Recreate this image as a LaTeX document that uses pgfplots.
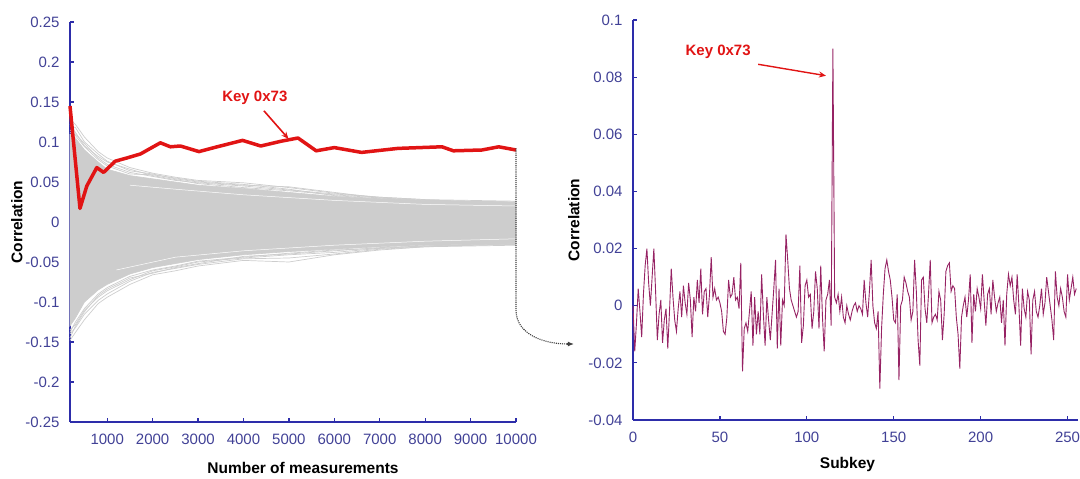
\documentclass[border=0pt]{standalone}
\usepackage{fontspec}
\setmainfont{Liberation Sans}
\usepackage{pgfplots}
\pgfplotsset{compat=1.18}
\usetikzlibrary{arrows.meta}
\definecolor{axblue}{RGB}{45,45,170}
\definecolor{tickblue}{RGB}{65,65,150}
\definecolor{fangray}{RGB}{205,205,205}
\definecolor{keyred}{RGB}{225,20,20}
\definecolor{mypurple}{RGB}{150,35,100}
\pgfplotsset{
  mystyle/.style={
    scale only axis,
    axis lines=left,
    axis line style={-, draw=axblue, line width=1.6pt},
    tick align=inside,
    major tick length=4pt,
    tick style={draw=axblue, line width=1.2pt},
    ticklabel style={font=\fontsize{15}{15}\selectfont, text=tickblue},
    xticklabel style={yshift=-8pt},
    yticklabel style={xshift=-7pt},
    /pgf/number format/assume math mode=true,
    /pgf/number format/fixed,
    /pgf/number format/1000 sep={},
    /pgf/number format/precision=2,
    scaled ticks=false,
    label style={font=\bfseries\fontsize{15.5}{15.5}\selectfont},
    clip=false,
  }
}
\begin{document}
\begin{tikzpicture}
\useasboundingbox (0,0) rectangle (1080pt,479pt);
% ---------------- left axis ----------------
\begin{axis}[mystyle,
  at={(70pt,57pt)}, anchor=south west,
  width=446pt, height=400pt,
  xmin=180, xmax=10000, ymin=-0.25, ymax=0.25,
  xtick={1000,2000,3000,4000,5000,6000,7000,8000,9000,10000},
  ytick={-0.25,-0.2,-0.15,-0.1,-0.05,0,0.05,0.1,0.15,0.2,0.25},
  xlabel={Number of measurements}, ylabel={Correlation},
  xlabel style={yshift=-11pt, xshift=10pt},
  ylabel style={yshift=-4pt},
]
% dense core of the 255 wrong-key traces
\addplot[fill=fangray, draw=fangray, line width=0.6pt] coordinates {
 (180,0.110) (300,0.105) (500,0.090) (800,0.075) (1000,0.066) (1500,0.058) (2000,0.054) (2500,0.050)
 (3000,0.046) (4000,0.042) (5000,0.037) (6000,0.032) (7000,0.029) (8000,0.027) (9000,0.026) (10000,0.025)
 (10000,-0.027) (9000,-0.028) (8000,-0.029) (7000,-0.031) (6000,-0.034) (5000,-0.037) (4000,-0.041) (3000,-0.047)
 (2500,-0.052) (2000,-0.057) (1500,-0.065) (1000,-0.078) (800,-0.085) (500,-0.100) (300,-0.120) (180,-0.130) (180,0.110)};
% outlying traces
\addplot[fangray, line width=0.7pt] coordinates {(180,0.128) (300,0.122) (500,0.106) (800,0.088) (1000,0.080) (1500,0.068) (2000,0.061) (2500,0.056) (3000,0.052) (4000,0.049) (5000,0.043) (6000,0.036) (7000,0.031) (8000,0.028) (9000,0.027) (10000,0.026)};
\addplot[fangray, line width=0.7pt] coordinates {(180,0.120) (300,0.118) (500,0.100) (800,0.085) (1000,0.076) (1500,0.064) (2000,0.060) (2500,0.054) (3000,0.050) (4000,0.046) (5000,0.044) (6000,0.037) (7000,0.030) (8000,0.027) (9000,0.026) (10000,0.025)};
\addplot[fangray, line width=0.7pt] coordinates {(180,0.115) (300,0.110) (500,0.098) (800,0.080) (1000,0.072) (1500,0.062) (2000,0.057) (2500,0.052) (3000,0.049) (4000,0.045) (5000,0.040) (6000,0.035) (7000,0.031) (8000,0.028) (9000,0.025) (10000,0.024)};
\addplot[fangray, line width=0.7pt] coordinates {(180,0.122) (300,0.112) (500,0.095) (800,0.082) (1000,0.075) (1500,0.066) (2000,0.058) (2500,0.053) (3000,0.048) (4000,0.043) (5000,0.039) (6000,0.034) (7000,0.030) (8000,0.027) (9000,0.026) (10000,0.024)};
\addplot[fangray, line width=0.7pt] coordinates {(180,0.112) (300,0.108) (500,0.094) (800,0.078) (1000,0.070) (1500,0.060) (2000,0.059) (2500,0.055) (3000,0.051) (4000,0.047) (5000,0.041) (6000,0.033) (7000,0.029) (8000,0.026) (9000,0.025) (10000,0.024)};
\addplot[fangray, line width=0.7pt] coordinates {(180,-0.148) (300,-0.138) (500,-0.122) (800,-0.102) (1000,-0.094) (1500,-0.078) (2000,-0.066) (2500,-0.061) (3000,-0.055) (4000,-0.048) (5000,-0.050) (6000,-0.041) (7000,-0.035) (8000,-0.031) (9000,-0.030) (10000,-0.029)};
\addplot[fangray, line width=0.7pt] coordinates {(180,-0.140) (300,-0.132) (500,-0.115) (800,-0.098) (1000,-0.090) (1500,-0.074) (2000,-0.063) (2500,-0.058) (3000,-0.053) (4000,-0.046) (5000,-0.045) (6000,-0.040) (7000,-0.034) (8000,-0.031) (9000,-0.029) (10000,-0.028)};
\addplot[fangray, line width=0.7pt] coordinates {(180,-0.135) (300,-0.128) (500,-0.110) (800,-0.094) (1000,-0.086) (1500,-0.072) (2000,-0.061) (2500,-0.056) (3000,-0.050) (4000,-0.045) (5000,-0.041) (6000,-0.038) (7000,-0.033) (8000,-0.030) (9000,-0.029) (10000,-0.028)};
\addplot[fangray, line width=0.7pt] coordinates {(180,-0.145) (300,-0.130) (500,-0.112) (800,-0.092) (1000,-0.084) (1500,-0.070) (2000,-0.064) (2500,-0.057) (3000,-0.052) (4000,-0.043) (5000,-0.040) (6000,-0.036) (7000,-0.032) (8000,-0.030) (9000,-0.028) (10000,-0.027)};
\addplot[fangray, line width=0.7pt] coordinates {(180,-0.138) (300,-0.125) (500,-0.108) (800,-0.090) (1000,-0.082) (1500,-0.068) (2000,-0.060) (2500,-0.055) (3000,-0.049) (4000,-0.044) (5000,-0.039) (6000,-0.035) (7000,-0.033) (8000,-0.030) (9000,-0.029) (10000,-0.027)};
% a few light gaps inside the band
\addplot[white, line width=0.5pt] coordinates {(1500,0.046) (2500,0.041) (4000,0.034) (6000,0.027) (8000,0.022) (10000,0.020)};
\addplot[white, line width=0.5pt] coordinates {(1200,-0.060) (2500,-0.044) (4000,-0.036) (6000,-0.029) (8000,-0.024) (10000,-0.021)};
% correct key 0x73
\addplot[keyred, line width=3.5pt, line join=round] coordinates {
 (180,0.145) (400,0.017) (550,0.045) (770,0.068) (920,0.062) (1175,0.076) (1430,0.080) (1730,0.085)
 (2170,0.099) (2390,0.094) (2610,0.095) (3020,0.088) (3420,0.094) (3980,0.102) (4380,0.095) (4830,0.101)
 (5200,0.105) (5600,0.089) (6000,0.093) (6600,0.087) (7400,0.092) (8370,0.094) (8620,0.089) (9250,0.090)
 (9620,0.094) (10000,0.090)};
\node[font=\bfseries\fontsize{15}{15}\selectfont, text=keyred] at (axis cs:4250,0.155) {Key 0x73};
\draw[keyred, line width=1.6pt, -{Stealth[length=7pt,width=6pt]}] (axis cs:4450,0.139) -- (axis cs:4990,0.104);
\coordinate (A) at (axis cs:10000,0.092);
\coordinate (B) at (axis cs:10000,-0.11);
\end{axis}
% ---------------- right axis ----------------
\begin{axis}[mystyle,
  at={(633pt,59pt)}, anchor=south west,
  width=445pt, height=400pt,
  xmin=0, xmax=256, ymin=-0.04, ymax=0.1,
  xtick={0,50,100,150,200,250},
  ytick={-0.04,-0.02,0,0.02,0.04,0.06,0.08,0.1},
  xlabel={Subkey}, ylabel={Correlation},
  xlabel style={yshift=-8pt, xshift=-8pt},
  ylabel style={yshift=2pt},
]
\addplot[mypurple, line width=0.9pt] coordinates {
(0,0) (1,-0.016) (2,-0.006) (3,0.006) (4,-0.002) (5,-0.011) (6,0.004) (7,0.014) (8,0.020) (9,0.008)
(10,0) (11,0.010) (12,0.020) (13,0.005) (14,-0.012) (15,-0.003) (16,0.002) (17,-0.013) (18,-0.005) (19,-0.001)
(20,-0.015) (21,-0.002) (22,0.013) (23,0.003) (24,-0.005) (25,-0.009) (26,-0.001) (27,0.005) (28,-0.004) (29,0.007)
(30,0.001) (31,-0.003) (32,0.008) (33,0.002) (34,-0.011) (35,0.003) (36,-0.002) (37,0.009) (38,0.001) (39,0.013)
(40,-0.003) (41,0.005) (42,0.006) (43,-0.004) (44,0.004) (45,0.017) (46,0.003) (47,0.006) (48,0.002) (49,0.003)
(50,0.001) (51,-0.002) (52,-0.009) (53,-0.010) (54,-0.004) (55,0.009) (56,0.003) (57,0.004) (58,0.010) (59,0.002)
(60,0.003) (61,-0.001) (62,0.015) (63,-0.023) (64,-0.008) (65,-0.006) (66,-0.009) (67,-0.002) (68,0.005) (69,-0.014)
(70,0.003) (71,-0.010) (72,-0.002) (73,-0.010) (74,0.011) (75,-0.003) (76,-0.014) (77,0.003) (78,-0.005) (79,-0.012)
(80,-0.003) (81,0.006) (82,0.016) (83,-0.015) (84,0.006) (85,-0.014) (86,0.002) (87,0) (88,0.025) (89,0.016)
(90,0.006) (91,0.002) (92,0) (93,-0.002) (94,-0.004) (95,-0.002) (96,0.014) (97,-0.013) (98,-0.007) (99,0.007)
(100,0.009) (101,0.003) (102,0.004) (103,-0.008) (104,-0.002) (105,0.012) (106,0.006) (107,-0.008) (108,0.014) (109,-0.004)
(110,-0.016) (111,0.002) (112,0.004) (113,0.009) (114,-0.007) (115,0.090) (116,0.003) (117,0.001) (118,0.004) (119,-0.002)
(120,0.003) (121,-0.004) (122,-0.006) (123,0) (124,-0.003) (125,-0.005) (126,-0.002) (127,0) (128,0.001) (129,-0.002)
(130,0) (131,-0.001) (132,-0.003) (133,0.009) (134,0.001) (135,-0.004) (136,0.005) (137,0.016) (138,0) (139,-0.006)
(140,-0.008) (141,-0.002) (142,-0.029) (143,-0.008) (144,0.004) (145,0.013) (146,0.016) (147,0.012) (148,0.009) (149,0.003)
(150,-0.005) (151,-0.006) (152,0.004) (153,-0.026) (154,0) (155,0.002) (156,0.010) (157,0.008) (158,0.005) (159,0.003)
(160,-0.005) (161,-0.002) (162,0.016) (163,0.005) (164,-0.012) (165,-0.021) (166,0.009) (167,0.010) (168,-0.001) (169,-0.006)
(170,0.004) (171,0.016) (172,-0.006) (173,-0.004) (174,-0.003) (175,-0.005) (176,0.005) (177,0.002) (178,-0.012) (179,-0.003)
(180,0.012) (181,0.014) (182,0.015) (183,0.005) (184,0.007) (185,0.006) (186,-0.004) (187,-0.010) (188,-0.022) (189,-0.004)
(190,0) (191,0.003) (192,-0.004) (193,0.002) (194,0.011) (195,-0.013) (196,0.004) (197,-0.002) (198,0.006) (199,0.003)
(200,-0.001) (201,0.011) (202,0.002) (203,-0.007) (204,0.004) (205,0.006) (206,-0.003) (207,0.009) (208,0.003) (209,-0.002)
(210,0.001) (211,0.003) (212,-0.006) (213,0.002) (214,-0.014) (215,0.004) (216,0.011) (217,0.007) (218,0.010) (219,0.002)
(220,-0.003) (221,0.011) (222,0) (223,-0.014) (224,0.006) (225,-0.001) (226,-0.004) (227,0.005) (228,0.002) (229,-0.017)
(230,0.002) (231,0.005) (232,-0.002) (233,-0.004) (234,0) (235,0.006) (236,-0.003) (237,0.001) (238,0.010) (239,0.005)
(240,0) (241,-0.005) (242,-0.012) (243,0.012) (244,0.003) (245,0) (246,0.006) (247,0.003) (248,-0.002) (249,-0.004)
(250,0.011) (251,0.002) (252,0.006) (253,0.010) (254,0.004) (255,0.006)};
\node[font=\bfseries\fontsize{15}{15}\selectfont, text=keyred] at (axis cs:49,0.0888) {Key 0x73};
\draw[keyred, line width=1.4pt, -{Stealth[length=7pt,width=6pt]}] (axis cs:72,0.0845) -- (axis cs:111,0.0805);
\coordinate (C) at (axis cs:-34,-0.0134);
\end{axis}
\draw[black!75, line width=1.1pt, densely dotted] (A) -- (B) to[out=-90,in=180] ([xshift=-6pt]C);
\draw[black!75, line width=1.1pt, -{Latex[length=6pt,width=5pt]}] ([xshift=-7pt]C) -- (C);
\end{tikzpicture}
\end{document}
